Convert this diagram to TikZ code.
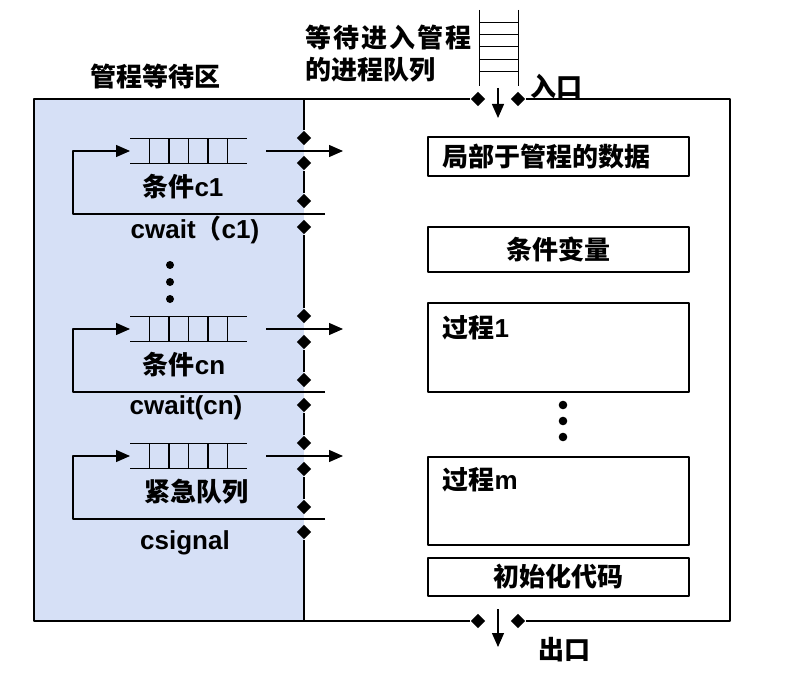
\documentclass[tikz,border=0pt]{standalone}
\usepackage{fontspec}
\setmainfont{Liberation Sans}
\newfontfamily\cjk{Noto Sans CJK SC}
\usetikzlibrary{arrows.meta,calc,shapes.geometric}
\definecolor{waitblue}{RGB}{214,224,246}
\tikzset{
  door/.style={diamond,fill,inner sep=0pt,minimum size=15pt},
  lbl/.style={font=\fontsize{26}{29}\selectfont\bfseries,inner sep=0pt},
  codebox/.style={draw,lbl,minimum width=261pt},
  flow/.style={-{Triangle[length=14pt,width=12pt]}},
}

\begin{document}
\begin{tikzpicture}[x=1pt,y=-1pt,line width=1.3pt,line join=round]
  \useasboundingbox (0,0) rectangle (808,679);
  % waiting area of the monitor
  \fill[waitblue] (34,99) rectangle (304,621);
  \node[lbl] (area) at (155.5,77) {\cjk 管程等待区};
  % outer wall with entry and exit
  \coordinate (nw) at (34,99);
  \coordinate (sw) at (34,621);
  \coordinate (ne) at (730,99);
  \coordinate (se) at (730,621);
  \node[door] (inL) at (478,99) {};
  \node[door] (inR) at (518,99) {};
  \node[door] (outL) at (478,621) {};
  \node[door] (outR) at (518,621) {};
  \draw (inL) -- (nw) -- (sw) -- (outL);
  \draw (inR) -- (ne) -- (se) -- (outR);
  % entry queue
  \draw[line width=1pt] (479,10) -- (479,86) (518,10) -- (518,86);
  \foreach \y in {23,35,47,60,72}
    \draw[line width=1pt] (479,\y) -- (518,\y);
  \node[lbl,anchor=west] (wait1) at (305,38)
    {\cjk 等\kern2pt 待\kern2pt 进\kern2pt 入\kern2pt 管\kern2pt 程};
  \node[lbl,anchor=west] (wait2) at (305,70) {\cjk 的进程队列};
  \node[lbl,anchor=west] (entry) at (530,86) {\cjk 入口};
  \coordinate (inTop) at (498,88);
  \coordinate (inBot) at (498,118);
  \draw[flow] (inTop) -- (inBot);
  \coordinate (outTop) at (498,609);
  \coordinate (outBot) at (498,647);
  \draw[flow] (outTop) -- (outBot);
  \node[lbl,anchor=west] (exit) at (538,650) {\cjk 出口};
  % separating wall with doors
  \foreach \y [count=\i] in {138,163,201,227,316,342,380,405,443,469,507,532}
    \node[door] (d\i) at (304,\y) {};
  \coordinate (sepTop) at (304,99);
  \coordinate (sepBot) at (304,621);
  \draw (sepTop) -- (d1) (d2) -- (d3) (d4) -- (d5) (d6) -- (d7)
        (d8) -- (d9) (d10) -- (d11) (d12) -- (sepBot);
  % condition queues
  \foreach \m/\l/\k in {151/214/1,329/392/2,456/519/3}{
    \draw (130,\m-12.5) -- (247,\m-12.5) (130,\m+12.5) -- (247,\m+12.5);
    \foreach \j in {1,...,5}
      \draw (130+19.5*\j,\m-12.5) -- (130+19.5*\j,\m+12.5);
    \coordinate (qin\k) at (130,\m);
    \coordinate (qout\k) at (266,\m);
    \coordinate (next\k) at (343,\m);
    \coordinate (back\k) at (325,\l);
    \coordinate (turn\k) at (73,\l);
    \draw[flow] (back\k) -- (turn\k) |- (qin\k);
    \draw[flow] (qout\k) -- (next\k);
  }
  \node[lbl] (c1) at (183,187) {{\cjk 条件}c1};
  \node[lbl,anchor=west] (w1) at (130,230) {cwait{\cjk （}c1)};
  \node[lbl] (cn) at (184,365) {{\cjk 条件}cn};
  \node[lbl] (wn) at (186,408) {cwait(cn)};
  \node[lbl] (urg) at (196.5,492) {\cjk 紧急队列};
  \node[lbl] (sig) at (185,543) {csignal};
  \foreach \y in {265,282,299}
    \fill (170,\y) circle (4);
  % monitor body
  \node[codebox,minimum height=39pt] (data) at (558.5,156.5) {};
  \node[lbl,anchor=west] (datat) at (442,157) {\cjk 局部于管程的数据};
  \node[codebox,minimum height=45pt] (cvar) at (558.5,249.5) {\cjk 条件变量};
  \node[codebox,minimum height=89pt] (p1) at (558.5,347.5) {};
  \node[lbl,anchor=west] (p1t) at (442,328) {{\cjk 过程}1};
  \foreach \y in {405,421,437}
    \fill (563,\y) circle (4.3);
  \node[codebox,minimum height=88pt] (pm) at (558.5,501) {};
  \node[lbl,anchor=west] (pmt) at (442,480) {{\cjk 过程}m};
  \node[codebox,minimum height=38pt] (init) at (558.5,577) {\cjk 初始化代码};
\end{tikzpicture}
\end{document}
